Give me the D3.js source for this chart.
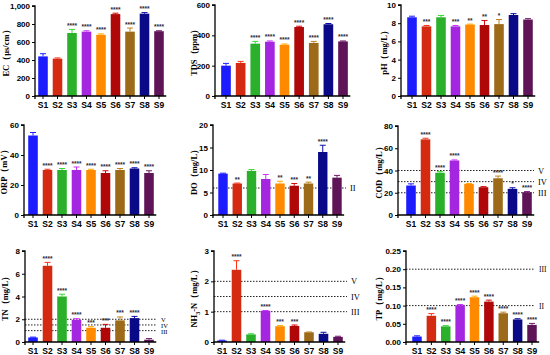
<!DOCTYPE html>
<html lang="en">
<head>
<meta charset="UTF-8">
<title>Water quality S1-S9</title>
<script src="https://d3js.org/d3.v7.min.js"></script>
<style>
    body { margin: 0; background: #fff; }
    .tick text { font-family: "Liberation Sans", Arial, sans-serif; font-weight: bold; font-size: 8px; fill: #000; }
    .ytitle { font-family: "Liberation Serif", "Times New Roman", serif; font-weight: bold; font-size: 8.5px; }
    .stars { font-family: "Liberation Sans", Arial, sans-serif; font-weight: bold; font-size: 6.5px; }
    .roman { font-family: "Liberation Serif", serif; font-size: 8.5px; }
</style>
</head>
<body>
<svg id="chart" width="550" height="355"></svg>
<script>
    const sites = ["S1", "S2", "S3", "S4", "S5", "S6", "S7", "S8", "S9"];
    const colors = ["#1c1cff", "#d42a12", "#2bb02b", "#a526e0", "#ff8a00", "#b00808", "#9c6a18", "#0a0a88", "#5e1456"];

    // values and errors
    const ecVal = [440, 415, 700, 715, 680, 910, 715, 915, 720];
    const ecErr = [30, 8, 40, 10, 10, 10, 40, 12, 5];
    const ecSig = ["", "", "****", "****", "****", "****", "****", "****", "****"];

    const tdsVal = [200, 218, 345, 358, 338, 455, 350, 473, 360];
    const tdsErr = [15, 10, 15, 5, 5, 5, 10, 5, 3];
    const tdsSig = ["", "", "****", "****", "****", "****", "****", "****", "****"];

    const phVal = [8.65, 7.65, 8.65, 7.65, 7.85, 7.8, 7.9, 8.9, 8.4];
    const phErr = [0.12, 0.1, 0.2, 0.1, 0.05, 0.5, 0.5, 0.15, 0.1];
    const phSig = ["", "***", "", "***", "**", "**", "*", "", ""];

    const orpVal = [53, 30, 30, 30, 30, 28, 30, 31, 28];
    const orpErr = [2, 0.5, 1, 2, 0.5, 1.5, 1, 0.5, 1.5];
    const orpSig = ["", "****", "****", "****", "****", "****", "****", "****", "****"];

    const doVal = [9.2, 7.0, 9.8, 8.0, 7.0, 6.5, 7.0, 14.0, 8.3];
    const doErr = [0.1, 0.1, 0.3, 1.0, 0.5, 0.5, 0.3, 1.5, 0.5];
    const doSig = ["", "**", "", "", "**", "***", "**", "****", ""];
    const doLines = [6];
    const doGrades = ["II"];

    const codVal = [26.5, 68, 38, 49, 28, 25, 33, 23.5, 20.5];
    const codErr = [1.5, 1, 1, 0.5, 0.3, 0.5, 2, 1, 0.5];
    const codSig = ["", "****", "****", "****", "", "", "****", "*", "****"];
    const codLines = [40, 30, 20];
    const codGrades = ["V", "IV", "III"];

    const tnVal = [0.4, 6.7, 4.0, 1.95, 1.25, 1.25, 1.9, 2.1, 0.2];
    const tnErr = [0.03, 0.3, 0.2, 0.1, 0.1, 0.3, 0.3, 0.15, 0.1];
    const tnSig = ["", "****", "****", "****", "***", "***", "***", "****", ""];
    const tnLines = [2, 1.5, 1];
    const tnGrades = ["V", "IV", "III"];

    const nhVal = [0.05, 2.38, 0.25, 1.03, 0.52, 0.53, 0.32, 0.27, 0.17];
    const nhErr = [0.01, 0.3, 0.02, 0.01, 0.02, 0.03, 0.01, 0.05, 0.02];
    const nhSig = ["", "****", "", "****", "***", "***", "", "", ""];
    const nhLines = [2, 1.5, 1];
    const nhGrades = ["V", "IV", "III"];

    const tpVal = [0.015, 0.072, 0.043, 0.101, 0.123, 0.111, 0.079, 0.062, 0.047];
    const tpErr = [0.002, 0.006, 0.002, 0.002, 0.003, 0.004, 0.003, 0.002, 0.004];
    const tpSig = ["", "****", "****", "****", "****", "****", "****", "****", "****"];
    const tpLines = [0.2, 0.1];
    const tpGrades = ["III", "II"];

    const svg = d3.select("#chart");

    function panel(o) {
        const g = svg.append("g");
        const step = (o.c9 - o.c1) / 8;
        const x = d3.scaleBand().domain(sites)
            .range([o.c1 - step / 2, o.c9 + step / 2])
            .paddingInner(0.34).paddingOuter(0.17);
        const y = d3.scaleLinear().domain([0, o.max]).range([o.bot, o.top]);

        // reference lines
        (o.lines || []).forEach((v, i) => {
            g.append("line")
                .attr("x1", o.ax).attr("x2", o.lineEnd)
                .attr("y1", y(v)).attr("y2", y(v))
                .attr("stroke", "#222").attr("stroke-width", 1)
                .attr("stroke-dasharray", "1.5,1.5");
            g.append("text").attr("class", "roman")
                .attr("x", o.lineEnd + 4).attr("y", y(v) + 3)
                .style("font-size", o.romanSize || null)
                .text(o.grades[i]);
        });

        const rows = sites.map((s, i) => ({ s, v: o.val[i], e: o.err[i], sig: o.sig[i], c: colors[i] }));

        g.selectAll(".bar").data(rows).enter().append("rect")
            .attr("x", d => x(d.s)).attr("width", x.bandwidth())
            .attr("y", d => y(d.v)).attr("height", d => o.bot - y(d.v))
            .attr("fill", d => d.c);

        // error bars (upper only)
        const cap = 3;
        rows.forEach(d => {
            const cx = x(d.s) + x.bandwidth() / 2;
            const col = d3.color(d.c).brighter(0.6);
            g.append("line").attr("x1", cx).attr("x2", cx)
                .attr("y1", y(d.v)).attr("y2", y(d.v + d.e))
                .attr("stroke", col).attr("stroke-width", 1);
            g.append("line").attr("x1", cx - cap).attr("x2", cx + cap)
                .attr("y1", y(d.v + d.e)).attr("y2", y(d.v + d.e))
                .attr("stroke", col).attr("stroke-width", 1);
            if (d.sig) {
                g.append("text").attr("class", "stars")
                    .attr("x", cx).attr("y", y(d.v + d.e) - 1.5)
                    .attr("text-anchor", "middle")
                    .attr("fill", "#2a2a3a")
                    .text(d.sig);
            }
        });

        const yAxis = d3.axisLeft(y)
            .tickValues(d3.range(0, o.max + o.tstep / 2, o.tstep))
            .tickFormat(d3.format(o.fmt))
            .tickSize(3).tickPadding(2);
        const ya = g.append("g").attr("transform", `translate(${o.ax},0)`).call(yAxis);
        ya.select(".domain").attr("stroke-width", 1.3).attr("d", `M-3,${o.top}H0V${o.bot}`);

        const xAxis = d3.axisBottom(x).tickSize(3).tickPadding(3);
        const xa = g.append("g").attr("transform", `translate(0,${o.bot})`).call(xAxis);
        xa.select(".domain").attr("stroke-width", 1.3)
            .attr("d", `M${o.ax},3V0H${x.range()[1]}`);
        xa.selectAll(".tick text").style("font-size", "8.5px");

        const t = g.append("text").attr("class", "ytitle")
            .attr("text-anchor", "middle")
            .attr("transform", `translate(${o.lx},${(o.top + o.bot) / 2}) rotate(-90)`);
        if (o.sub) {
            t.append("tspan").text("NH");
            t.append("tspan").attr("baseline-shift", "sub").style("font-size", "6px").text("3");
            t.append("tspan").text("-N（mg/L）");
        } else {
            t.text(o.title);
        }
    }

    panel({ val: ecVal, err: ecErr, sig: ecSig, ax: 35, top: 6, bot: 96, c1: 43, c9: 159, max: 1000, tstep: 200, fmt: ",", lx: 9, title: "EC（μs/cm）" });
    panel({ val: tdsVal, err: tdsErr, sig: tdsSig, ax: 215, top: 5, bot: 96, c1: 226, c9: 343, max: 600, tstep: 200, fmt: "d", lx: 197, title: "TDS（ppm）" });
    panel({ val: phVal, err: phErr, sig: phSig, ax: 401, top: 5, bot: 96, c1: 412, c9: 528, max: 10, tstep: 2, fmt: "d", lx: 387, title: "pH（mg/L）" });

    panel({ val: orpVal, err: orpErr, sig: orpSig, ax: 24, top: 125, bot: 215, c1: 33, c9: 149, max: 60, tstep: 20, fmt: "d", lx: 7, title: "ORP（mV）" });
    panel({ val: doVal, err: doErr, sig: doSig, ax: 213, top: 125, bot: 215, c1: 223, c9: 337, max: 20, tstep: 5, fmt: "d", lx: 197, title: "DO（mg/L）", lines: doLines, grades: doGrades, lineEnd: 346 });
    panel({ val: codVal, err: codErr, sig: codSig, ax: 398, top: 126, bot: 215, c1: 411, c9: 527, max: 80, tstep: 20, fmt: "d", lx: 382, title: "COD（mg/L）", lines: codLines, grades: codGrades, lineEnd: 534 });

    panel({ val: tnVal, err: tnErr, sig: tnSig, ax: 25, top: 251, bot: 342, c1: 33, c9: 149, max: 8, tstep: 2, fmt: "d", lx: 8, title: "TN（mg/L）", lines: tnLines, grades: tnGrades, lineEnd: 157, romanSize: "6.5px" });
    panel({ val: nhVal, err: nhErr, sig: nhSig, ax: 214, top: 251, bot: 342, c1: 222, c9: 338, max: 3, tstep: 1, fmt: "d", lx: 197, sub: true, lines: nhLines, grades: nhGrades, lineEnd: 347 });
    panel({ val: tpVal, err: tpErr, sig: tpSig, ax: 406, top: 251, bot: 342, c1: 417, c9: 532, max: 0.25, tstep: 0.05, fmt: ".2f", lx: 382, title: "TP（mg/L）", lines: tpLines, grades: tpGrades, lineEnd: 535, romanSize: "7.5px" });
</script>
</body>
</html>
